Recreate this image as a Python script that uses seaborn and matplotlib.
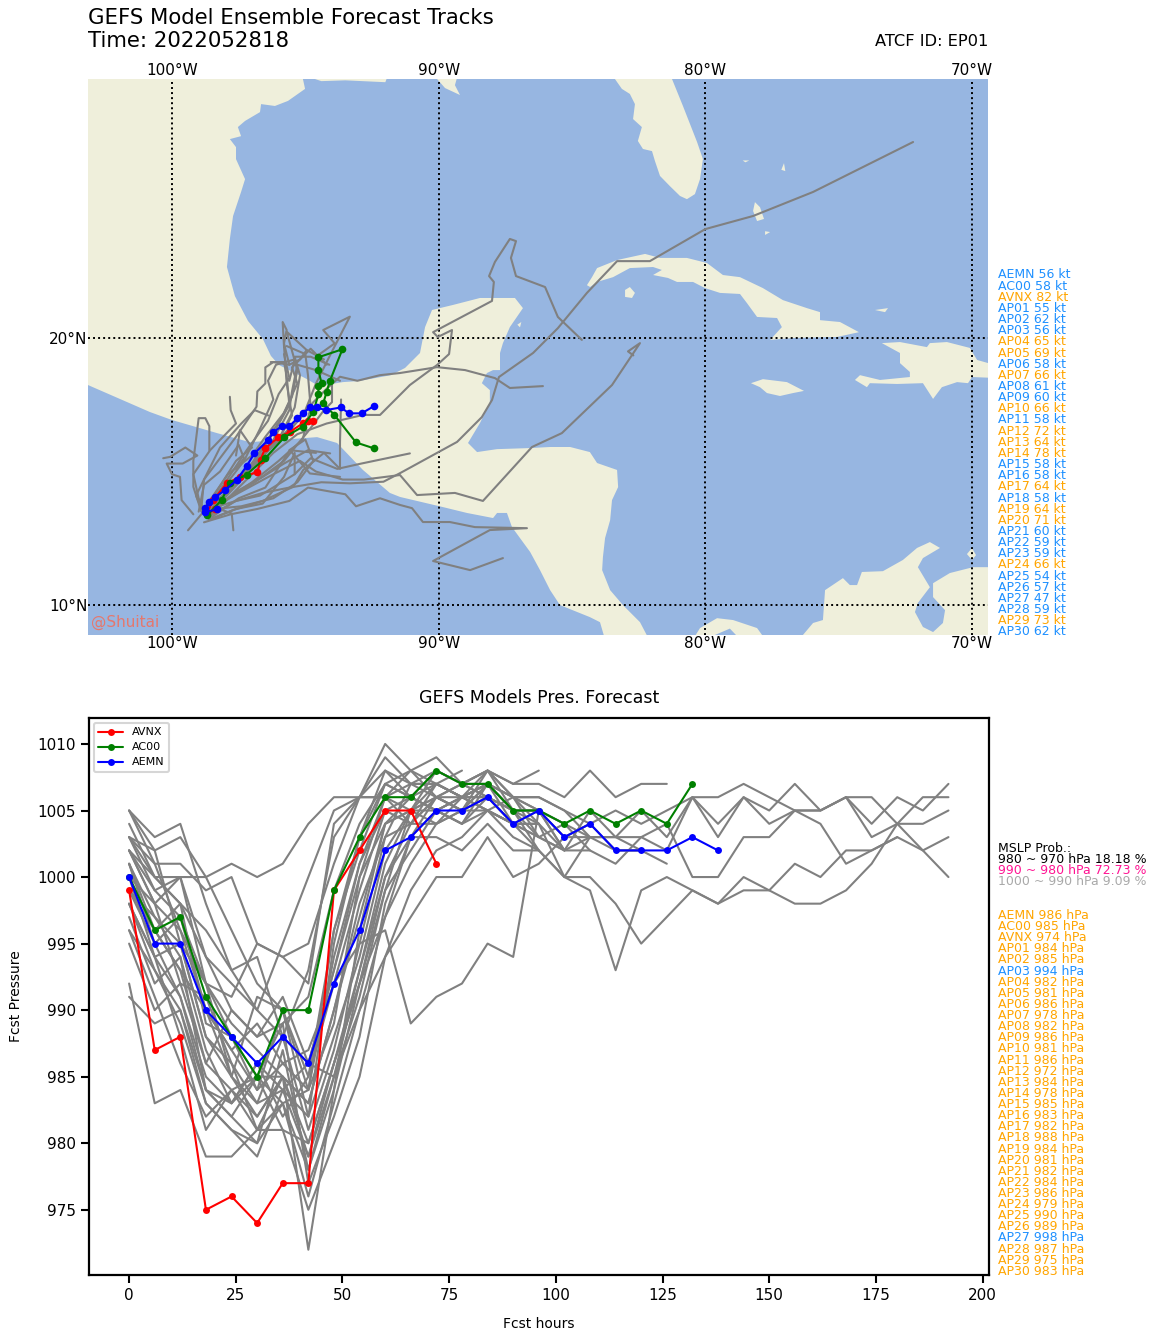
import matplotlib
matplotlib.use("Agg")
import matplotlib.pyplot as plt
from matplotlib.patches import Polygon
import seaborn as sns

# ---------- land outlines (lon, lat) ----------
mainland = [(-105,31),(-95.09,31),(-95.09,29.7),(-95.01,29.33),(-95.65,28.88),(-96.14,28.69),(-96.66,28.76),(-96.7,28.46),
 (-97.26,28.13),(-97.53,27.9),(-97.41,27.56),(-97.83,27.45),(-97.6,27.15),(-97.6,26.7),(-97.26,25.95),(-97.41,25.47),
 (-97.71,24.57),(-97.83,23.71),(-97.94,22.66),(-97.64,21.57),(-97.15,20.64),(-96.59,19.96),(-96.29,19.33),(-95.99,18.99),
 (-95.01,18.5),(-94.49,18.2),(-93.59,18.35),(-92.99,18.39),(-91.79,18.61),(-91.26,18.88),(-90.7,19.44),(-90.51,20.41),
 (-90.25,21.05),(-89.46,21.24),(-88.45,21.5),(-87.14,21.5),(-86.84,21.12),(-87.33,20.41),(-87.59,19.81),(-87.7,19.44),
 (-87.7,18.8),(-87.96,18.8),(-88.19,18.69),(-88.38,18.31),(-88.08,18.05),(-88.08,17.57),(-88.45,16.82),(-88.9,16.07),
 (-88.56,15.73),(-87.81,15.84),(-86.57,15.88),(-85.82,15.92),(-85.07,15.92),(-84.33,15.73),(-84.06,15.32),(-83.31,15.06),
 (-83.27,14.42),(-83.5,13.93),(-83.57,13.18),(-83.76,12.51),(-83.84,11.8),(-83.87,11.31),(-83.57,10.56),(-83.09,10.0),
 (-82.45,9.36),(-82.0,8.5),(-83.7,8.5),(-83.95,9.36),(-84.33,9.55),(-85.45,10.0),(-85.82,10.56),(-86.2,11.31),(-86.57,11.99),
 (-87.25,12.92),(-87.44,13.45),(-87.81,13.45),(-87.96,13.26),(-88.94,13.45),(-89.84,13.67),(-91.45,14.05),(-91.83,14.2),
 (-92.84,15.06),(-93.81,16.07),(-94.56,16.29),(-97.08,16.1),(-98.31,16.44),(-100,16.93),(-100.83,17.23),(-103.15,18.24),(-105,18.6)]
louisiana = [(-94.64,30.5),(-94.64,29.7),(-94.4,29.62),(-93.5,29.65),(-92.0,29.58),(-91.65,30.5)]
delta = [(-90.06,30.5),(-90.06,29.7),(-89.76,29.36),(-89.2,29.1),(-89.39,29.47),(-89.1,30.5)]
florida = [(-83.6,31),(-83.39,29.7),(-83.13,29.33),(-82.83,29.14),(-82.64,28.76),(-82.71,28.2),(-82.38,27.9),(-82.53,27.38),
 (-82.34,27.08),(-82.0,27.0),(-81.89,26.63),(-81.7,26.07),(-81.33,25.69),(-80.95,25.32),(-80.69,25.2),(-80.39,25.39),
 (-80.2,25.95),(-80.09,26.7),(-80.31,27.34),(-80.84,28.69),(-81.25,29.7),(-81.4,31)]
cuba = [(-84.44,21.98),(-84.25,22.28),(-84.06,22.62),(-83.31,22.92),(-82.26,23.15),(-81.7,23.0),(-80.69,23.0),(-79.94,22.81),
 (-79.34,22.36),(-78.7,22.28),(-77.84,21.87),(-77.09,21.42),(-76.19,21.12),(-75.7,20.97),(-75.7,20.67),(-74.95,20.6),
 (-74.24,20.22),(-75.06,20.04),(-76.71,20.0),(-77.57,19.93),(-77.13,20.41),(-77.31,20.75),(-78.06,20.79),(-78.44,21.31),
 (-78.7,21.65),(-79.45,21.69),(-80.01,21.87),(-80.46,22.1),(-81.06,22.1),(-81.4,22.25),(-81.96,22.36),(-81.63,22.55),
 (-81.96,22.66),(-82.83,22.62),(-83.46,22.28),(-84.06,22.1),(-84.32,21.91)]
hispaniola = [(-73.38,19.81),(-72.7,19.85),(-71.69,19.66),(-71.58,19.81),(-70.94,19.85),(-70.08,19.63),(-69.81,19.18),(-69.0,18.95),
 (-69.0,18.5),(-70.0,18.54),(-70.15,18.31),(-70.56,18.35),(-71.13,18.16),(-71.46,17.72),(-71.84,18.31),(-72.81,18.28),
 (-73.83,18.31),(-73.94,18.16),(-74.39,18.43),(-74.2,18.61),(-73.45,18.43),(-72.33,18.54),(-72.33,18.73),(-72.7,19.06),(-72.7,19.44)]
jamaica = [(-78.29,18.31),(-77.84,18.46),(-76.94,18.35),(-76.3,18.02),(-76.71,17.94),(-77.2,17.83),(-77.69,17.94),(-77.95,18.16)]
isle_of_youth = [(-83.01,21.8),(-82.83,21.91),(-82.64,21.69),(-82.75,21.5),(-83.01,21.54)]
andros = [(-78.14,25.09),(-77.95,24.9),(-77.8,24.46),(-78.06,24.38),(-78.21,24.76)]
inagua = [(-73.64,21.05),(-73.15,21.12),(-73.26,20.97)]
aruba = [(-70.19,11.91),(-70.0,12.14),(-69.85,11.87),(-70.0,11.69)]
exuma = [(-77.76,24.0),(-77.57,23.97),(-77.76,23.86)]
abaco = [(-77.05,26.55),(-77.0,26.25),(-77.15,26.3)]
bimini = [(-78.6,26.65),(-78.35,26.65),(-78.5,26.58)]
cozumel = [(-87.05,20.5),(-86.9,20.6),(-86.95,20.4)]
panama = [(-80.6,8.5),(-80.2,9.14),(-79.56,9.51),(-78.96,9.44),(-78.06,9.14),(-77.6,8.5),(-78.85,8.5),(-78.85,8.88),(-79.08,9.12),(-79.64,8.88),(-79.6,8.5)]
south_america = [(-76.3,8.5),(-76.34,8.88),(-75.96,9.33),(-75.59,9.44),(-75.51,10.56),(-74.84,11.01),(-74.58,10.75),(-74.31,10.75),
 (-74.13,11.24),(-73.34,11.27),(-72.59,11.69),(-72.06,12.14),(-71.58,12.36),(-71.2,12.14),(-71.84,11.76),(-72.03,11.42),
 (-71.58,10.67),(-72.03,10.08),(-72.14,9.74),(-71.84,9.18),(-71.46,8.99),(-71.09,9.33),(-71.01,9.81),(-71.46,10.3),
 (-71.46,10.82),(-70.83,11.2),(-69.96,11.42),(-69.3,11.42),(-69.3,8.5)]
land_polygons = [mainland, louisiana, delta, florida, cuba, hispaniola, jamaica, isle_of_youth, andros, inagua, aruba,
                 exuma, abaco, bimini, cozumel, panama, south_america]

# ---------- tracks (lon, lat) ----------
avnx_track = [(-98.39,13.58),(-98.7,13.43),(-98.45,13.93),(-97.95,14.56),(-97.45,14.8),(-96.8,14.97),(-96.68,15.43),(-96.51,15.87),
 (-96.01,16.28),(-95.58,16.49),(-95.1,16.8),(-94.9,16.9),(-94.7,16.89)]
ac00_track = [(-98.68,13.37),(-98.14,13.93),(-97.83,14.56),(-97.2,14.89),(-96.51,15.49),(-95.79,16.28),(-95.1,16.68),(-94.7,17.24),
 (-94.51,17.89),(-94.51,18.2),(-94.39,18.3),(-94.51,18.8),(-94.51,19.28),(-93.61,19.58),(-94.08,18.39),(-94.2,17.99),
 (-94.33,17.55),(-93.91,17.12),(-93.1,16.09),(-92.43,15.87)]
aemn_track = [(-98.3,13.58),(-98.76,13.49),(-98.76,13.62),(-98.6,13.87),(-98.39,14.03),(-98.01,14.31),(-97.57,14.68),(-97.2,15.21),
 (-96.91,15.68),(-96.39,16.18),(-96.2,16.47),(-95.89,16.7),(-95.6,16.7),(-95.3,16.99),(-95.1,17.18),(-94.83,17.4),
 (-94.57,17.4),(-94.24,17.3),(-93.67,17.4),(-93.36,17.18),(-92.89,17.18),(-92.41,17.46)]
member_tracks = [
 [(-98.6,13.3),(-97.9,14.0),(-97.0,14.9),(-96.2,15.7),(-95.3,16.4),(-94.2,16.8),(-92.84,17.12),(-92.2,17.12),(-91.08,18.24),(-90.06,18.99),(-89.61,19.4),(-89.5,20.3),(-90.03,20.04),(-90.21,20.22),(-88.0,21.39),(-87.93,22.1),(-88.11,22.32),(-87.89,22.85),(-87.33,23.71),(-87.1,23.63),(-87.29,23.0),(-87.1,22.32),(-86.01,21.91),(-85.53,20.79),(-84.63,19.93)],
 [(-98.5,13.4),(-97.6,13.9),(-96.6,14.2),(-95.6,14.4),(-94.4,14.6),(-93.33,14.56),(-92.07,14.62),(-91.45,14.94),(-89.31,16.11),(-88.38,17.04),(-88.0,17.68),(-87.74,18.54),(-86.46,19.44),(-85.53,20.37),(-84.44,21.69),(-83.31,22.88),(-82.08,22.88),(-80.0,24.08),(-78.21,24.57),(-75.96,25.47),(-72.21,27.34)],
 [(-98.8,13.1),(-97.8,13.4),(-96.8,13.6),(-95.6,13.9),(-94.9,14.4),(-93.5,14.15),(-93.1,13.7),(-92.2,14.0),(-91.45,13.75),(-91,13.63),(-90.59,13.11),(-89.58,13.11),(-88.64,12.92),(-86.69,12.88),(-88.08,12.81),(-90.21,11.65),(-88.82,11.31),(-87.59,11.76)],
 [(-98.7,13.5),(-97.5,14.2),(-96.2,14.9),(-95.2,15.4),(-94.6,15.0),(-93.6,14.7),(-92.8,14.7),(-91.45,14.87),(-90.81,14.12),(-89.39,14.2),(-88.34,13.9),(-86.5,15.92),(-85.38,16.44),(-83.5,18.24),(-82.45,19.81),(-82.9,19.5),(-82.7,19.35)],
 [(-98.6,13.5),(-97.6,14.7),(-96.6,15.6),(-95.7,16.4),(-95.1,17.1),(-94.7,17.6),(-94.2,18.1),(-93.7,18.55),(-93.05,18.4),(-92.2,18.61),(-91.45,18.69),(-90.06,18.91),(-89.01,18.8),(-87.89,18.5),(-87.33,18.13),(-86.09,18.2)],
 [(-98.6,13.6),(-97.6,13.9),(-96.7,14.1),(-95.4,14.9),(-94.8,15.5),(-93.8,15.1),(-92.9,15.3),(-91.08,15.68)],
 [(-98.7,13.3),(-99.0,14.0),(-99.2,14.9),(-98.57,15.8),(-97.6,16.8),(-97.8,17.3),(-97.83,17.8)],
 [(-98.9,13.5),(-99.2,14.43),(-99.2,15.4),(-99.1,16.2),(-99.0,17.0),(-98.75,17.0),(-98.6,16.7),(-98.6,15.8)],
 [(-99.2,13.4),(-99.64,13.93),(-99.7,14.8),(-100.0,14.9),(-100.2,15.3),(-99.6,15.3),(-99.05,15.6),(-99.5,15.9),(-100.07,15.55),(-100.33,15.5)],
 [(-98.9,13.6),(-98.8,14.7),(-98.2,15.5),(-97.6,16.3),(-96.83,17.43),(-96.8,18.0),(-96.5,18.3),(-96.5,18.9),(-96.2,19.1),(-95.6,19.0),(-95.2,19.2),(-94.95,19.55)],
 [(-98.6,13.5),(-97.9,14.3),(-96.8,15.4),(-95.8,16.4),(-95.0,17.3),(-94.6,18.3),(-94.1,19.3),(-93.33,20.8),(-94.33,20.3),(-93.9,19.8),(-94.6,19.3)],
 [(-98.5,13.5),(-97.2,14.9),(-96.0,16.2),(-95.5,17.1),(-95.7,18.3),(-95.8,19.7),(-95.85,20.6),(-95.7,20.3),(-95.8,19.8),(-95.6,19.0)],
 [(-98.4,13.6),(-97.2,15.0),(-95.9,17.0),(-95.5,17.8),(-95.3,18.8),(-95.7,20.24),(-94.95,19.55),(-94.3,19.2)],
 [(-98.7,13.7),(-97.1,15.2),(-96.3,16.0),(-95.6,17.3),(-95.5,18.0),(-95.3,19.0),(-94.6,18.8),(-93.7,18.4)],
 [(-98.6,13.4),(-97.5,14.3),(-96.6,14.8),(-95.8,15.3),(-94.9,15.8),(-94.07,15.68)],
 [(-98.5,13.3),(-97.5,14.0),(-96.5,14.4),(-95.58,15.8),(-94.83,14.93),(-93.7,14.8)],
 [(-98.6,13.2),(-97.7,13.56),(-96.6,13.9),(-95.45,14.43),(-95.08,15.06),(-94.3,15.7),(-93.7,15.1),(-93.7,16.1),(-93.66,17.7)],
 [(-99.4,12.8),(-98.9,13.4),(-98.3,14.3),(-97.6,15.4),(-97.0,15.9),(-97.45,16.55),(-97.6,15.6)],
 [(-98.7,13.5),(-98.45,13.68),(-97.76,13.43),(-97.7,12.8)],
 [(-98.8,13.5),(-98.3,14.1),(-97.3,15.4),(-96.7,16.6),(-96.2,17.7),(-96.4,18.4),(-96.1,19.0),(-95.4,19.2),(-95.6,18.4)],
 [(-98.7,13.4),(-98.2,14.0),(-97.0,15.2),(-96.0,16.2),(-95.4,17.4),(-95.2,18.6),(-95.4,19.3),(-94.8,19.3),(-94.1,19.0)],
 [(-98.6,13.3),(-98.2,13.8),(-97.0,14.6),(-96.0,15.4),(-95.1,16.2),(-94.8,17.4),(-94.9,18.6),(-95.0,19.4),(-95.7,19.7)],
 [(-98.7,13.6),(-98.0,14.2),(-96.9,15.4),(-96.1,16.6),(-95.6,17.5),(-95.7,18.6),(-95.8,19.1),(-96.3,19.1)],
 [(-98.5,13.4),(-97.9,14.0),(-96.9,14.6),(-95.8,15.4),(-94.9,16.5),(-94.3,17.3),(-94.0,17.6),(-94.0,18.4)],
 [(-98.4,13.6),(-97.4,13.7),(-96.2,14.0),(-95.3,14.6),(-94.7,15.4),(-95.0,16.2),(-95.6,15.8),(-94.6,15.7)],
 [(-98.6,13.2),(-97.6,13.6),(-96.6,13.8),(-95.8,14.8),(-95.4,15.7),(-95.4,14.9)],
 [(-99.0,13.5),(-98.8,14.5),(-98.2,15.0),(-97.5,16.0),(-97.3,15.5),(-97.6,15.1)],
 [(-98.8,13.4),(-99.1,14.1),(-98.6,15.1),(-98.2,15.9),(-97.4,16.8),(-96.9,17.3),(-96.39,17.1)],
 [(-98.7,13.6),(-98.0,14.6),(-97.2,15.8),(-96.4,16.9),(-96.0,17.9),(-95.6,18.5),(-95.8,19.4)],
 [(-98.8,13.6),(-97.9,14.9),(-97.0,15.6),(-96.5,16.3),(-95.8,17.2),(-95.3,18.3),(-95.5,18.9),(-94.8,19.6),(-94.2,19.0)],
]

# ---------- pressure series (6-hourly from hour 0) ----------
avnx_pres = [999,987,988,975,976,974,977,977,999,1002,1005,1005,1001]
ac00_pres = [1000,996,997,991,988,985,990,990,999,1003,1006,1006,1008,1007,1007,1005,1005,1004,1005,1004,1005,1004,1007]
aemn_pres = [1000,995,995,990,988,986,988,986,992,996,1002,1003,1005,1005,1006,1004,1005,1003,1004,1002,1002,1002,1003,1002]
member_pres = [
 [1005,1003,1004,998,993,990,988,986,993,1001,1006,1008,1009,1007,1008,1007,1007,1006,1008,1006,1007,1007],
 [1005,1002,1003,1000,996,992,990,985,996,1003,1008,1006,1008,1007,1008,1007,1008],
 [1002,1000,1000,1000,1001,1000,1001,1004,1006,1006,1010,1008,1006,1007,1008,1006,1006,1005,1003,1003,1002,1001],
 [1003,1001,1001,999,1000,995,994,995,1001,1006,1009,1007,1008,1007,1006,1005,1005,1004,1003],
 [1004,1000,998,994,990,988,989,991,999,1004,1007,1006,1005,1006,1007,1005,1005,1003,1004,1005,1004,1005,1006,1006,1007,1006,1005,1004,1001,1002,1003,1002,1003],
 [1003,999,997,992,985,983,984,986,993,1000,1004,1005,1006,1005,1007,1006,1005,1002,1005,1003,1005,1003,1006,1004,1006,1005,1007,1005,1006,1006,1004,1002,1000],
 [1002,998,996,990,987,984,986,987,992,995,996,989,991,992,995,994,1005,1002,1002,1001,1003,1004,1000,1000,1003,1003,1005,1005,1006,1003,1004,1004,1005],
 [1001,997,995,988,985,982,985,983,990,998,1003,1004,1004,1005,1006,1004,1004,1000,1003,1003,1003,1002,1006,1003,1006,1004,1005,1005,1006,1004,1006,1005,1007],
 [1000,996,993,986,984,981,983,978,985,993,1000,1003,1003,1002,1004,1002,1002,1000,1000,998,995,997,999,998,1000,999,998,998,999,1001,1004,1006,1006],
 [999,995,991,984,982,985,981,980,986,992,999,1002,1005,1004,1005,1003,1002,1000,999,993,999,1000,999,998,999,999,1001,1000,1002,1002,1003],
 [998,993,990,983,981,979,984,979,985,990,994,997,1000,1000,1003,1000,1001,1003,1003,1002,1002],
 [992,983,984,979,979,981,981,975,980,985,994,999,1002,1003,1005,1004],
 [991,989,990,984,983,985,983,976,983,990,997,1001,1004,1005,1006],
 [1002,999,1000,994,992,990,995,1000,1005,1006,1006,1004,1007,1006,1007,1005,1004,1002,1003],
 [1001,996,998,989,988,984,990,984,994,1001,1005,1006,1005,1004,1006,1005,1005,1003,1004,1002,1002],
 [1003,1000,998,996,993,994,988,993,1003,1006,1008,1007,1007,1006,1006,1004,1003],
 [1000,998,1000,992,989,987,985,983,990,997,1004,1006,1007,1008],
 [999,997,994,987,983,986,984,982,988,994,1002,1005,1006,1005,1008,1006,1005,1004],
 [1002,998,992,991,986,983,988,981,987,995,1003,1007,1007,1006,1005,1006,1003,1004,1002],
 [998,994,995,988,986,981,985,979,986,993,1001,1005,1008,1007,1007,1005],
 [997,992,994,984,982,980,987,978,984,992,1000,1004,1006,1005,1005,1004,1002],
 [996,991,986,982,984,985,989,977,982,988,998,1003,1006,1006,1008,1005,1003,1002],
 [995,990,992,986,990,988,991,986,985,991,999,1005,1005,1004,1007,1006,1006,1005,1004],
 [1001,995,997,990,987,989,986,984,996,1002,1007,1006,1005,1006,1007,1005],
 [1000,994,991,985,983,986,982,985,992,999,1005,1004,1006,1007,1006,1005,1002],
 [996,993,989,983,981,980,983,984,989,1000,1006,1005,1004,1006,1007,1004,1005],
 [999,996,993,990,985,991,990,982,995,1003,1007,1008,1007,1006,1005,1004,1003,1002],
 [1003,1002,995,992,991,995,994,992,1004,1006,1006,1007,1006,1005,1007,1006,1004],
 [1005,1001,996,992,988,985,985,972,984,996,1004,1005,1007,1006,1005,1004],
 [998,994,988,981,984,982,985,980,986,992,997,1003,1005,1006,1006,1004,1004],
]

# ---------- side labels ----------
model_names = ["AEMN","AC00","AVNX"] + [f"AP{i:02d}" for i in range(1,31)]
max_wind_kt = [56,58,82,55,62,56,65,69,58,66,61,60,66,58,72,64,78,58,58,64,58,64,71,60,59,59,66,54,57,47,59,73,62]
min_pres_hpa = [986,985,974,984,985,994,982,981,986,978,982,986,981,986,972,984,978,985,983,982,988,984,981,982,984,986,979,990,989,998,987,975,983]
prob_lines = ["MSLP Prob.:","980 ~ 970 hPa 18.18 %","990 ~ 980 hPa 72.73 %","1000 ~ 990 hPa 9.09 %"]
prob_colors = ["black","black","deeppink","darkgray"]
lon_ticks = [-100,-90,-80,-70]
lat_ticks = [10,20]

W, H = 1155, 1340
LAND, OCEAN = "#EFEFDB", "#97B6E1"
ORANGE, BLUE = "orange", "dodgerblue"

sns.set_style("ticks")
plt.rcParams["font.family"] = ["DejaVu Sans"]
plt.rcParams.update({"text.color": "black", "axes.labelcolor": "black", "xtick.color": "black", "ytick.color": "black",
                     "lines.dotted_pattern": [1.0, 1.6]})
fig = plt.figure(figsize=(W/100, H/100), dpi=100)

def box(x0, y0, x1, y1):
    return [x0/W, 1-y1/H, (x1-x0)/W, (y1-y0)/H]
def ftext(x, y, s, **kw):
    fig.text(x/W, 1-y/H, s, va="center", **kw)

# ---------- map ----------
ax = fig.add_axes(box(88, 79, 988, 635))
ax.set_facecolor(OCEAN)
for poly in land_polygons:
    ax.add_patch(Polygon(poly, closed=True, fc=LAND, ec="none", zorder=1))
ax.set_xlim(-103.15, -69.4)
ax.set_ylim(8.88, 29.7)
for s in ax.spines.values():
    s.set_visible(False)
ax.set_xticks(lon_ticks, [f"{-v}°W" for v in lon_ticks])
ax.set_yticks(lat_ticks, [f"{v}°N" for v in lat_ticks])
ax.tick_params(axis="both", length=0, labelsize=11, pad=0.5, top=True, labeltop=True, bottom=True, labelbottom=True)
ax.grid(True, color="black", ls=":", lw=1.4, zorder=2)
ax.set_axisbelow(False)

for tr in member_tracks:
    sns.lineplot(x=[p[0] for p in tr], y=[p[1] for p in tr], sort=False, estimator=None, errorbar=None,
                 color="gray", lw=1.5, legend=False, ax=ax, zorder=3)
for tr, col in ((avnx_track, "red"), (ac00_track, "green"), (aemn_track, "blue")):
    sns.lineplot(x=[p[0] for p in tr], y=[p[1] for p in tr], sort=False, estimator=None, errorbar=None,
                 color=col, lw=1.5, marker="o", ms=5.5, mec=col, mew=0, legend=False, ax=ax, zorder=4)
ax.set_xlabel(""); ax.set_ylabel("")
ax.text(0.003, 0.022, "@Shuitai", transform=ax.transAxes, color="tomato", alpha=0.75, fontsize=11, va="center", zorder=5)

ftext(88, 18, "GEFS Model Ensemble Forecast Tracks", fontsize=15.3, ha="left")
ftext(88, 41, "Time: 2022052818", fontsize=15.3, ha="left")
ftext(988, 42, "ATCF ID: EP01", fontsize=11.7, ha="right")

# ---------- pressure ----------
bx = fig.add_axes(box(89, 718, 989, 1275))
for ser in member_pres:
    sns.lineplot(x=[6*i for i in range(len(ser))], y=ser, estimator=None, errorbar=None, color="gray", lw=1.5,
                 legend=False, ax=bx, zorder=2)
for ser, name, col in ((avnx_pres, "AVNX", "red"), (ac00_pres, "AC00", "green"), (aemn_pres, "AEMN", "blue")):
    sns.lineplot(x=[6*i for i in range(len(ser))], y=ser, estimator=None, errorbar=None, color=col, lw=1.5,
                 marker="o", ms=5, mec=col, mew=0, label=name, ax=bx, zorder=3)
bx.set_xlim(-9.4, 201.5)
bx.set_ylim(970.1, 1011.95)
bx.set_xticks(range(0, 201, 25))
bx.set_yticks(range(975, 1011, 5))
bx.tick_params(axis="both", length=6, width=1.5, labelsize=11, color="black", labelcolor="black")
for s in bx.spines.values():
    s.set_linewidth(1.6); s.set_color("black")
bx.set_title("GEFS Models Pres. Forecast", fontsize=12.5, pad=11)
bx.set_xlabel("Fcst hours", fontsize=10, labelpad=10)
bx.set_ylabel("Fcst Pressure", fontsize=10, labelpad=10)
leg = bx.legend(loc="upper left", fontsize=8, framealpha=0.8, borderaxespad=0.45, labelspacing=0.45, handlelength=2.2)
leg.get_frame().set_linewidth(1.5)

# ---------- side text ----------
for i, (n, v) in enumerate(zip(model_names, max_wind_kt)):
    ftext(998, 275 + i*11.15, f"{n} {v} kt", fontsize=9, ha="left", color=ORANGE if v >= 64 else BLUE)
for i, (s, c) in enumerate(zip(prob_lines, prob_colors)):
    ftext(998, 848 + i*11.15, s, fontsize=9, ha="left", color=c)
for i, (n, v) in enumerate(zip(model_names, min_pres_hpa)):
    ftext(998, 915.5 + i*11.12, f"{n} {v} hPa", fontsize=9, ha="left", color=ORANGE if v <= 990 else BLUE)

fig.savefig("out.png", dpi=100)
